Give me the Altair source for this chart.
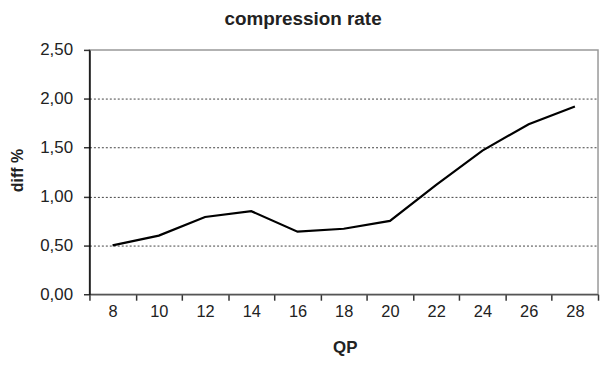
import altair as alt
import pandas as pd

qp = [8, 10, 12, 14, 16, 18, 20, 22, 24, 26, 28]
diff = [0.50, 0.60, 0.79, 0.85, 0.64, 0.67, 0.75, 1.12, 1.47, 1.74, 1.92]
y_ticks = [0, 0.5, 1.0, 1.5, 2.0, 2.5]
x_ticks = list(range(7, 30))

df = pd.DataFrame({"QP": qp, "diff": diff})

chart = alt.Chart(df).mark_line(color="black", strokeWidth=2.2).encode(
    x=alt.X(
        "QP:Q",
        scale=alt.Scale(domain=[7, 29], nice=False, zero=False),
        axis=alt.Axis(
            title="QP",
            values=x_ticks,
            labelExpr="datum.value % 2 == 0 ? datum.label : ''",
            tickOpacity={"condition": {"test": "datum.value % 2 == 1", "value": 1}, "value": 0},
            grid=False,
            domainColor="#555555",
            domainWidth=1.5,
            tickColor="#333333",
            tickWidth=1.5,
            tickSize=6,
            labelPadding=3,
            labelFont="Liberation Sans",
            labelFontSize=16.5,
            labelColor="#222222",
            titleFont="Liberation Sans",
            titleFontSize=17,
            titleFontWeight="bold",
            titleX=257,
            titleY=54,
            titleBaseline="middle",
            titleColor="#222222",
        ),
    ),
    y=alt.Y(
        "diff:Q",
        scale=alt.Scale(domain=[0, 2.5], nice=False),
        axis=alt.Axis(
            title="diff %",
            values=y_ticks,
            labelExpr="replace(format(datum.value, '.2f'), '.', ',')",
            grid=True,
            gridDash=[2, 2],
            gridColor="#444444",
            gridOpacity={"condition": {"test": "datum.value > 0 && datum.value < 2.5", "value": 1}, "value": 0},
            domainColor="black",
            domainWidth=1.5,
            tickColor="#333333",
            tickWidth=1.5,
            tickSize=6,
            labelPadding=11,
            labelFont="Liberation Sans",
            labelFontSize=17,
            labelColor="#222222",
            titleFont="Liberation Sans",
            titleFontSize=16,
            titleFontWeight="bold",
            titleAngle=270,
            titleX=-72,
            titleY=121,
            titleAlign="center",
            titleBaseline="middle",
            titleColor="#222222",
        ),
    ),
).properties(
    width=512,
    height=246,
    title=alt.TitleParams(
        "compression rate",
        font="Liberation Sans",
        fontSize=19,
        fontWeight="bold",
        color="#222222",
        anchor="middle",
        dx=-41,
        offset=12,
    ),
    autosize=alt.AutoSizeParams(type="none"),
    padding={"left": 82, "top": 41, "right": 3, "bottom": 62},
).configure_view(stroke="#999999", strokeWidth=1.5)

chart.save("out.html", embed_options={"renderer": "svg", "actions": False})
